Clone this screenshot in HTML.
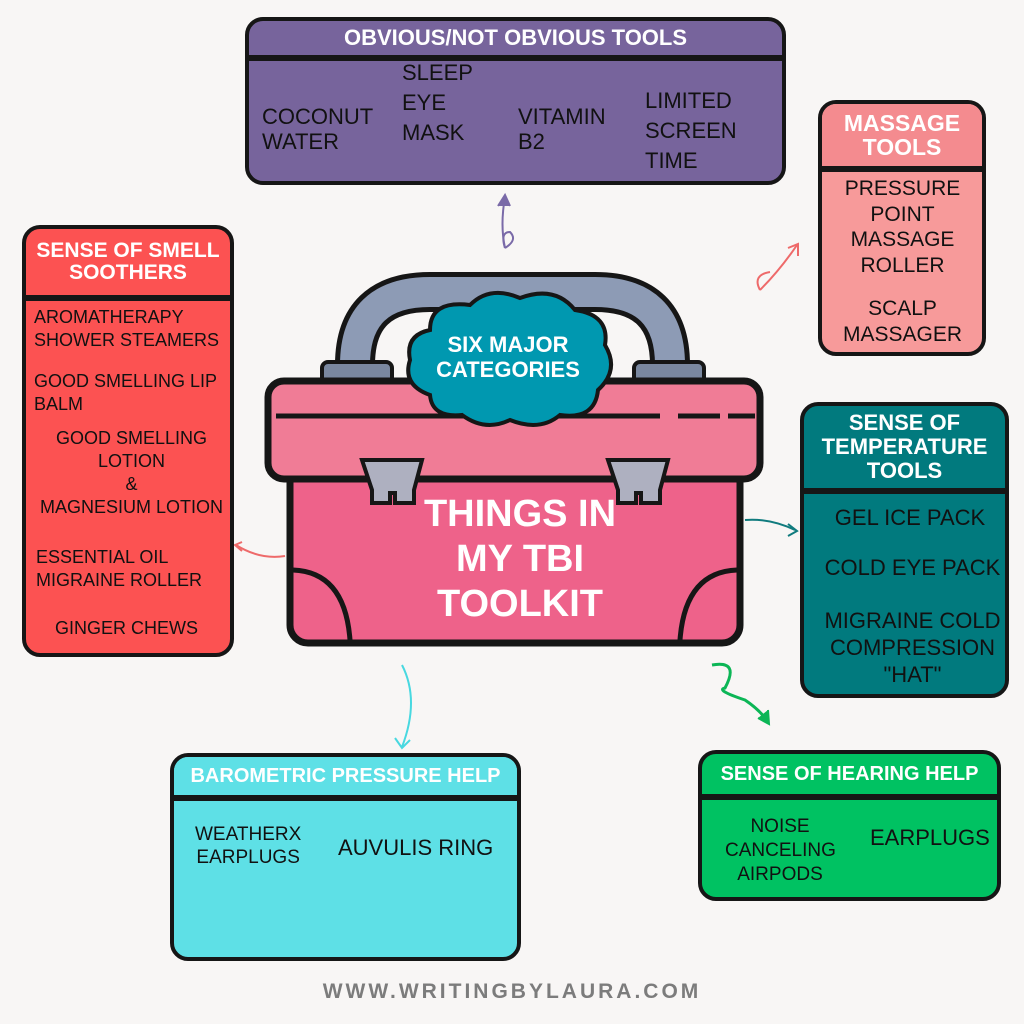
<!DOCTYPE html>
<html><head><meta charset="utf-8"><style>
body{margin:0;width:1024px;height:1024px;background:#f8f6f5;overflow:hidden;position:relative;font-family:"Liberation Sans Narrow","Liberation Sans",sans-serif;}
.b{position:absolute;border:4px solid #161616;border-radius:18px;box-sizing:border-box;overflow:hidden;}
.h{color:#fff;font-weight:bold;text-align:center;border-bottom:6px solid #161616;box-sizing:border-box;display:flex;align-items:center;justify-content:center;line-height:1.05;}
.t{position:absolute;color:#111;font-size:22px;line-height:1.15;text-align:center;text-transform:uppercase;}
</style></head><body>

<svg width="1024" height="1024" style="position:absolute;left:0;top:0">
 <!-- handle -->
 <path d="M355 365 Q355 292 430 292 L595 292 Q670 292 670 365" fill="none" stroke="#161616" stroke-width="40"/>
 <path d="M355 365 Q355 292 430 292 L595 292 Q670 292 670 365" fill="none" stroke="#8d9bb5" stroke-width="30"/>
 <rect x="322" y="362" width="70" height="25" rx="6" fill="#7a88a0" stroke="#161616" stroke-width="4"/>
 <rect x="634" y="362" width="70" height="25" rx="6" fill="#7a88a0" stroke="#161616" stroke-width="4"/>
 <!-- body -->
 <rect x="290" y="465" width="450" height="178" rx="18" fill="#ee628a" stroke="#161616" stroke-width="7"/>
 <path d="M293 570 Q345 572 350 640" fill="none" stroke="#161616" stroke-width="5"/>
 <path d="M737 570 Q685 572 680 640" fill="none" stroke="#161616" stroke-width="5"/>
 <!-- lid -->
 <rect x="268" y="381" width="492" height="98" rx="16" fill="#f07c96" stroke="#161616" stroke-width="7"/>
 <path d="M276 416 L660 416 M678 416 L720 416 M728 416 L755 416" stroke="#161616" stroke-width="5"/>
 <!-- latches -->
 <path d="M362 460 L422 460 L414 490 L414 503 L395 503 L395 493 L390 493 L390 503 L372 503 L372 490 Z" fill="#aeb0c0" stroke="#161616" stroke-width="4"/>
 <path d="M608 460 L668 460 L660 490 L660 503 L641 503 L641 493 L636 493 L636 503 L618 503 L618 490 Z" fill="#aeb0c0" stroke="#161616" stroke-width="4"/>
 <!-- cloud -->
 <path d="M430 330 Q430 300 470 305 Q490 285 520 298 Q555 285 575 310 Q610 315 605 345 Q620 370 598 390 Q595 420 560 415 Q540 432 510 420 Q485 432 462 415 Q432 418 430 395 Q402 385 410 360 Q405 335 430 330 Z" fill="#0098b0" stroke="#161616" stroke-width="4"/>
 <!-- arrows -->
 <g fill="none" stroke-width="2">
  <path d="M505 248 Q500 225 505 197" stroke="#7a6aa8"/><path d="M505 248 Q518 240 510 232 Q500 232 505 248" stroke="#7a6aa8"/>
  <path d="M498 206 L505 195 L510 206" stroke="#7a6aa8" fill="#7a6aa8"/>
  <path d="M760 290 Q780 270 797 245" stroke="#ee6a6a"/><path d="M760 290 Q752 275 770 272" stroke="#ee6a6a"/>
  <path d="M788 248 L798 244 L798 256" stroke="#ee6a6a"/>
  <path d="M285 556 Q260 560 236 545" stroke="#ee6a6a"/><path d="M242 542 L235 545 L242 551" stroke="#ee6a6a"/>
  <path d="M745 520 Q770 518 795 530" stroke="#107b7e"/><path d="M788 524 L797 531 L788 536" stroke="#107b7e"/>
  <path d="M402 665 Q420 700 402 747" stroke="#48d8e0"/><path d="M395 738 L402 748 L410 740" stroke="#48d8e0"/>
  <path d="M712 665 Q740 660 725 688 Q715 690 745 700 Q760 710 768 722" stroke="#0cb656" stroke-width="3"/>
  <path d="M758 718 L769 724 L768 710" stroke="#0cb656" fill="#0cb656"/>
 </g>
</svg>

<div style="position:absolute;left:400px;top:332px;width:216px;text-align:center;color:#fff;font-family:'Liberation Sans',sans-serif;font-weight:bold;font-size:22px;line-height:25px">SIX MAJOR<br>CATEGORIES</div>
<div style="position:absolute;left:380px;top:492px;width:280px;text-align:center;color:#fff;font-family:'Liberation Sans',sans-serif;font-weight:bold;font-size:38px;line-height:45px">THINGS IN<br>MY TBI<br>TOOLKIT</div>

<div class="b" style="left:245px;top:17px;width:541px;height:168px;background:#77649c">
 <div class="h" style="height:40px;font-size:22px;">OBVIOUS/NOT OBVIOUS TOOLS</div>
</div>
<div class="t" style="left:262px;top:104px;text-align:left">Coconut<br>Water</div>
<div class="t" style="left:402px;top:58px;text-align:left;line-height:30px">Sleep<br>Eye<br>Mask</div>
<div class="t" style="left:518px;top:104px;text-align:left">Vitamin<br>B2</div>
<div class="t" style="left:645px;top:86px;text-align:left;line-height:30px">Limited<br>Screen<br>Time</div>

<div class="b" style="left:818px;top:100px;width:168px;height:256px;background:#f79a9a">
 <div class="h" style="height:68px;font-size:23px;background:#f48b8f">MASSAGE<br>TOOLS</div>
</div>
<div class="t" style="left:820px;top:176px;width:165px;font-size:21px;line-height:25.5px">Pressure<br>Point<br>Massage<br>Roller</div>
<div class="t" style="left:820px;top:296px;width:165px;font-size:21px;line-height:26px">Scalp<br>Massager</div>

<div class="b" style="left:22px;top:225px;width:212px;height:432px;background:#fc5252">
 <div class="h" style="height:72px;font-size:21px;">SENSE OF SMELL<br>SOOTHERS</div>
</div>
<div class="t" style="left:34px;top:306px;text-align:left;font-size:18px;line-height:23px">Aromatherapy<br>Shower Steamers</div>
<div class="t" style="left:34px;top:370px;text-align:left;font-size:18px;line-height:23px">Good smelling lip<br>balm</div>
<div class="t" style="left:34px;top:427px;width:195px;font-size:18px;line-height:23px">Good smelling<br>lotion<br>&amp;<br>Magnesium Lotion</div>
<div class="t" style="left:36px;top:546px;text-align:left;font-size:18px;line-height:23px">Essential oil<br>migraine roller</div>
<div class="t" style="left:34px;top:618px;width:185px;font-size:18px">Ginger chews</div>

<div class="b" style="left:800px;top:402px;width:209px;height:296px;background:#017a7e">
 <div class="h" style="height:88px;font-size:22px;line-height:24px">SENSE OF<br>TEMPERATURE<br>TOOLS</div>
</div>
<div class="t" style="left:800px;top:505px;width:220px;">Gel ice pack</div>
<div class="t" style="left:800px;top:555px;width:225px;">Cold eye pack</div>
<div class="t" style="left:800px;top:607px;width:225px;line-height:27px">Migraine cold<br>compression<br>"hat"</div>

<div class="b" style="left:170px;top:753px;width:351px;height:208px;background:#5ee0e6">
 <div class="h" style="height:44px;font-size:20px;background:#5ee0e6">BAROMETRIC PRESSURE HELP</div>
</div>
<div class="t" style="left:195px;top:823px;font-size:19px;line-height:23px">WeatherX<br>Earplugs</div>
<div class="t" style="left:338px;top:835px;">Auvulis Ring</div>

<div class="b" style="left:698px;top:750px;width:303px;height:151px;background:#00c262">
 <div class="h" style="height:46px;font-size:20px;">SENSE OF HEARING HELP</div>
</div>
<div class="t" style="left:725px;top:815px;width:110px;font-size:19px;line-height:24px">Noise<br>canceling<br>airpods</div>
<div class="t" style="left:870px;top:825px;">Earplugs</div>

<div style="position:absolute;left:0;width:1024px;top:980px;text-align:center;color:#7c7c7c;font-family:'Liberation Sans',sans-serif;font-weight:bold;font-size:21px;letter-spacing:3px">WWW.WRITINGBYLAURA.COM</div>
</body></html>
